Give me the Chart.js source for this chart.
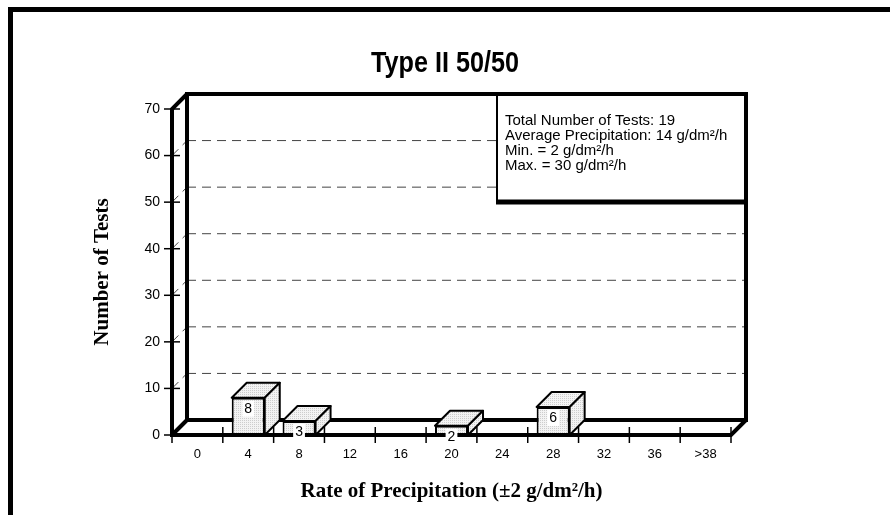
<!DOCTYPE html>
<html>
<head>
<meta charset="utf-8">
<script src="https://cdn.jsdelivr.net/npm/chart.js@4.4.1/dist/chart.umd.min.js"></script>
<style>
  body { margin: 0; background: #fff; }
  canvas { display: block; }
</style>
</head>
<body>
<canvas id="precipChart" width="890" height="515"></canvas>
<script>
// data
const chartTitle = 'Type II 50/50';
const rateLabels = ['0', '4', '8', '12', '16', '20', '24', '28', '32', '36', '>38'];
const testCounts = [0, 8, 3, 0, 0, 2, 0, 6, 0, 0, 0];
const yMax = 70;
const yStep = 10;
const statsLines = [
  'Total Number of Tests: 19',
  'Average Precipitation: 14 g/dm\u00b2/h',
  'Min. = 2 g/dm\u00b2/h',
  'Max. = 30 g/dm\u00b2/h'
];

const depthX = 15;
const depthY = 15;
const sans = "Arial, 'Liberation Sans', sans-serif";
const serif = "'Times New Roman', 'Liberation Serif', serif";

const canvas = document.getElementById('precipChart');
const ctx = canvas.getContext('2d');

// little dotted fill like the original bars
function dotPattern() {
  const c = document.createElement('canvas');
  c.width = 2; c.height = 2;
  const g = c.getContext('2d');
  g.fillStyle = '#f3f3f3';
  g.fillRect(0, 0, 2, 2);
  g.fillStyle = '#cdcdcd';
  g.fillRect(0, 0, 1, 1);
  return ctx.createPattern(c, 'repeat');
}
const barFill = dotPattern();

function line(g, x1, y1, x2, y2) {
  g.beginPath();
  g.moveTo(x1, y1);
  g.lineTo(x2, y2);
  g.stroke();
}

const box3d = {
  id: 'box3d',
  beforeDatasetsDraw(chart) {
    const g = chart.ctx;
    const { left, right, top, bottom } = chart.chartArea;
    const ys = chart.scales.y;
    const xs = chart.scales.x;
    g.save();
    g.strokeStyle = '#000';

    // outer frame
    g.lineWidth = 5;
    g.strokeRect(10.5, 9.5, 1000, 1000);

    // title, narrow bold face like the original
    g.save();
    g.fillStyle = '#000';
    g.font = 'bold 30px ' + sans;
    g.textAlign = 'center';
    g.textBaseline = 'alphabetic';
    g.translate(chart.width / 2, 72);
    g.scale(0.84, 1);
    g.fillText(chartTitle, 0, 0);
    g.restore();

    // dashed grid on back wall
    g.lineWidth = 1;
    g.strokeStyle = '#444';
    g.setLineDash([9, 6]);
    for (let v = yStep; v < yMax; v += yStep) {
      const y = ys.getPixelForValue(v);
      line(g, left + depthX, y - depthY, right + depthX, y - depthY);
      line(g, left, y, left + depthX, y - depthY);
    }
    g.setLineDash([]);
    g.strokeStyle = '#000';

    // stats box (covers the grid in the corner)
    const bw = 250, bh = 110;
    const bx = right + depthX - bw, by = top - depthY;
    g.fillStyle = '#fff';
    g.fillRect(bx, by, bw, bh);
    g.lineWidth = 2;
    line(g, bx + 1, by, bx + 1, by + bh);
    g.lineWidth = 5;
    line(g, bx, by + bh - 2, right + depthX, by + bh - 2);
    g.fillStyle = '#000';
    g.font = '15px ' + sans;
    g.textAlign = 'left';
    g.textBaseline = 'alphabetic';
    statsLines.forEach((t, i) => g.fillText(t, bx + 9, by + 31 + i * 15));

    // the 3D box outline
    g.lineWidth = 4;
    g.lineJoin = 'miter';
    g.beginPath();
    g.moveTo(left + depthX, bottom - depthY);
    g.lineTo(left + depthX, top - depthY);
    g.lineTo(right + depthX, top - depthY);
    g.lineTo(right + depthX, bottom - depthY);
    g.closePath();
    g.stroke();
    g.beginPath();
    g.moveTo(left + depthX, top - depthY);
    g.lineTo(left, top);
    g.lineTo(left, bottom);
    g.lineTo(right, bottom);
    g.lineTo(right + depthX, bottom - depthY);
    g.stroke();
    line(g, left, bottom, left + depthX, bottom - depthY);

    // tick marks
    g.lineWidth = 1.5;
    for (let v = 0; v <= yMax; v += yStep) {
      const y = ys.getPixelForValue(v);
      line(g, left - 8, y, left + 8, y);
    }
    const cw = xs.width / rateLabels.length;
    for (let i = 0; i <= rateLabels.length; i++) {
      const x = xs.getPixelForValue(0) - cw / 2 + i * cw;
      line(g, x, bottom - 8, x, bottom + 8);
    }
    g.restore();
  },
  afterDatasetsDraw(chart) {
    const g = chart.ctx;
    const meta = chart.getDatasetMeta(0);
    g.save();
    g.strokeStyle = '#000';
    g.lineWidth = 2;
    g.lineJoin = 'round';
    meta.data.forEach((bar, i) => {
      if (!(testCounts[i] > 0)) return;
      const { x, y, base, width } = bar.getProps(['x', 'y', 'base', 'width'], true);
      const l = x - width / 2, r = x + width / 2;
      // top face
      g.beginPath();
      g.moveTo(l, y);
      g.lineTo(l + depthX, y - depthY);
      g.lineTo(r + depthX, y - depthY);
      g.lineTo(r, y);
      g.closePath();
      g.fillStyle = barFill;
      g.fill();
      g.stroke();
      // side face
      g.beginPath();
      g.moveTo(r, y);
      g.lineTo(r + depthX, y - depthY);
      g.lineTo(r + depthX, base - depthY);
      g.lineTo(r, base);
      g.closePath();
      g.fill();
      g.stroke();
    });
    // value labels
    g.font = '14px ' + sans;
    g.textAlign = 'center';
    g.textBaseline = 'middle';
    meta.data.forEach((bar, i) => {
      if (!(testCounts[i] > 0)) return;
      const { x, y } = bar.getProps(['x', 'y'], true);
      const t = String(testCounts[i]);
      const w = g.measureText(t).width;
      g.fillStyle = '#fff';
      g.fillRect(x - w / 2 - 2, y + 11 - 8, w + 4, 16);
      g.fillStyle = '#000';
      g.fillText(t, x, y + 11);
    });
    g.restore();
  }
};

new Chart(canvas, {
  type: 'bar',
  data: {
    labels: rateLabels,
    datasets: [{
      data: testCounts,
      backgroundColor: barFill,
      borderColor: '#000',
      borderWidth: (c) => (c.raw > 0 ? 2 : 0),
      borderSkipped: false,
      barPercentage: 0.65,
      categoryPercentage: 1
    }]
  },
  options: {
    responsive: false,
    animation: false,
    events: [],
    layout: { padding: { top: 109 } },
    plugins: {
      legend: { display: false },
      tooltip: { enabled: false },
      title: { display: false }
    },
    scales: {
      x: {
        grid: { display: false, drawTicks: false },
        border: { display: false },
        ticks: { color: '#000', font: { family: sans, size: 13 }, padding: 12, autoSkip: false, maxRotation: 0 },
        title: {
          display: true,
          text: 'Rate of Precipitation (\u00b12 g/dm\u00b2/h)',
          color: '#000',
          font: { family: serif, size: 21, weight: 'bold' },
          padding: { top: 0, bottom: 11 }
        },
        afterFit(scale) { scale.height = 80; }
      },
      y: {
        min: 0,
        max: yMax,
        grid: { display: false, drawTicks: false },
        border: { display: false },
        ticks: { stepSize: yStep, color: '#000', font: { family: sans, size: 14 }, padding: 12 },
        title: {
          display: true,
          text: 'Number of Tests',
          color: '#000',
          font: { family: serif, size: 21, weight: 'bold' },
          padding: { top: 90, bottom: 0 }
        },
        afterFit(scale) { scale.width = 172; }
      },
      // empty axis on the right, only keeps the plot clear of the right margin
      yr: {
        position: 'right',
        grid: { display: false, drawTicks: false },
        border: { display: false },
        ticks: { display: false },
        afterFit(scale) { scale.width = 159; }
      }
    }
  },
  plugins: [box3d]
});
</script>
</body>
</html>
